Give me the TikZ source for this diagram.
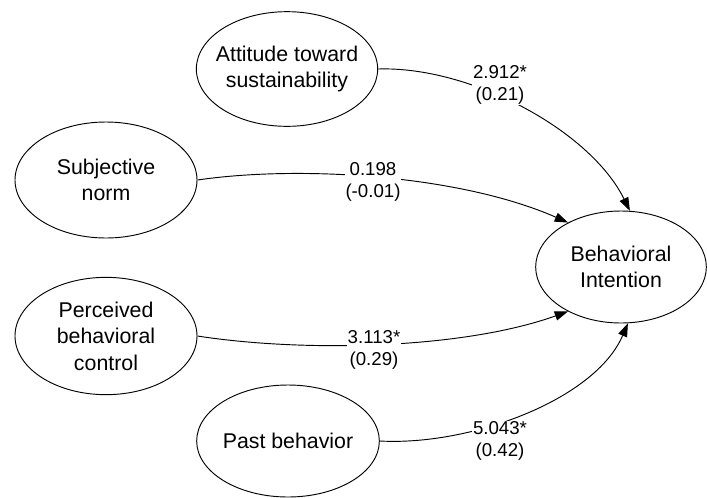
\documentclass[tikz,border=0pt]{standalone}
\usepackage{fontspec}
\setmainfont{Liberation Sans}
\usetikzlibrary{shapes.geometric,arrows.meta}
\begin{document}
\begin{tikzpicture}[x=0.75pt,y=-0.75pt,
  latent/.style={draw, ellipse, line width=0.7pt, inner sep=0pt},
  nodetext/.style={font=\fontsize{16}{19.8}\selectfont, align=center},
  effect/.style={line width=0.7pt, -{Triangle[length=10pt,width=7pt]}},
  coef/.style={fill=white, inner sep=0.5pt, align=center, font=\fontsize{14}{16.5}\selectfont}]
\useasboundingbox (0,0) rectangle (707,497);
\node[latent, minimum width=136pt, minimum height=86pt,
  label={[nodetext]center:Attitude toward\\sustainability}] (att) at (287,69) {};
\node[latent, minimum width=136.5pt, minimum height=87pt,
  label={[nodetext]center:Subjective\\norm}] (sub) at (106,180) {};
\node[latent, minimum width=136.5pt, minimum height=88pt,
  label={[nodetext]center:Perceived\\behavioral\\control}] (per) at (106,336) {};
\node[latent, minimum width=137pt, minimum height=84pt,
  label={[nodetext]center:Past behavior}] (past) at (288,441) {};
\node[latent, minimum width=128pt, minimum height=84pt,
  label={[nodetext]center:Behavioral\\Intention}] (bi) at (621,267) {};

\draw[effect] (att.east) .. controls (470,66) and (590,130) .. (bi.81);
\draw[effect] (sub.east) .. controls (300,165) and (460,175) .. (bi.140);
\draw[effect] (per.east) .. controls (300,352) and (460,350) .. (bi.220);
\draw[effect] (past.east) .. controls (470,446) and (595,400) .. (bi.277);

\node[coef] (c1) at (500,85) {2.912*\\(0.21)};
\node[coef] (c2) at (373,182) {0.198\\(-0.01)};
\node[coef] (c3) at (374,350) {3.113*\\(0.29)};
\node[coef] (c4) at (500,441) {5.043*\\(0.42)};
\end{tikzpicture}
\end{document}
